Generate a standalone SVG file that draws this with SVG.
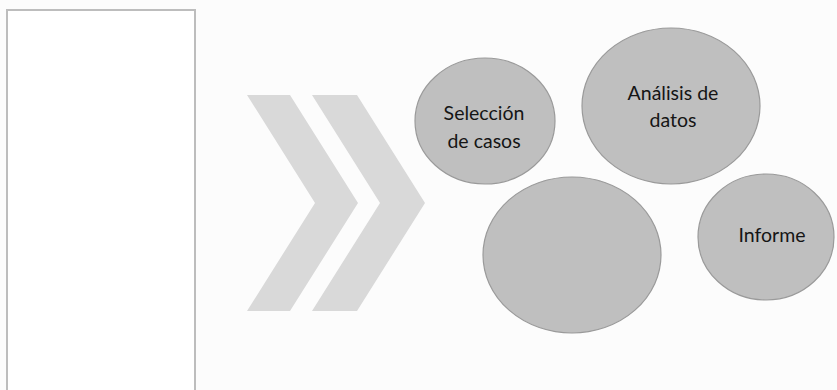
<svg xmlns="http://www.w3.org/2000/svg" width="837" height="390" viewBox="0 0 837 390">
<style>
.chev{fill:#d9d9d9;}
.bub{fill:#bfbfbf;stroke:#9a9a9a;stroke-width:1.2;}
.lbl{font-family:Lato,"Open Sans","Liberation Sans",sans-serif;font-size:19.5px;fill:#151515;text-anchor:middle;}
</style>
<rect x="0" y="0" width="837" height="390" fill="#fcfcfc"/>
<g id="panel">
<rect x="7" y="10" width="188" height="390" fill="#ffffff" stroke="#bdbdbd" stroke-width="2"/>
</g>
<g id="chevrons">
<polygon class="chev" points="247,95 290,95 358,203 290,311 247,311 315,203"/>
<polygon class="chev" points="312,95 357,95 425,203 357,311 312,311 380,203"/>
</g>
<g id="seleccion">
<ellipse class="bub" cx="485" cy="121" rx="70" ry="63"/>
<text class="lbl" x="484" y="120">Selección</text>
<text class="lbl" x="484" y="148">de casos</text>
</g>
<g id="analisis">
<ellipse class="bub" cx="671" cy="106" rx="89" ry="78"/>
<text class="lbl" x="673" y="100">Análisis de</text>
<text class="lbl" x="673" y="127">datos</text>
</g>
<g id="blank">
<ellipse class="bub" cx="572" cy="255" rx="89" ry="78"/>
</g>
<g id="informe">
<ellipse class="bub" cx="766" cy="237" rx="68" ry="63"/>
<text class="lbl" x="772" y="242">Informe</text>
</g>
<g id="connectors"></g>
</svg>
